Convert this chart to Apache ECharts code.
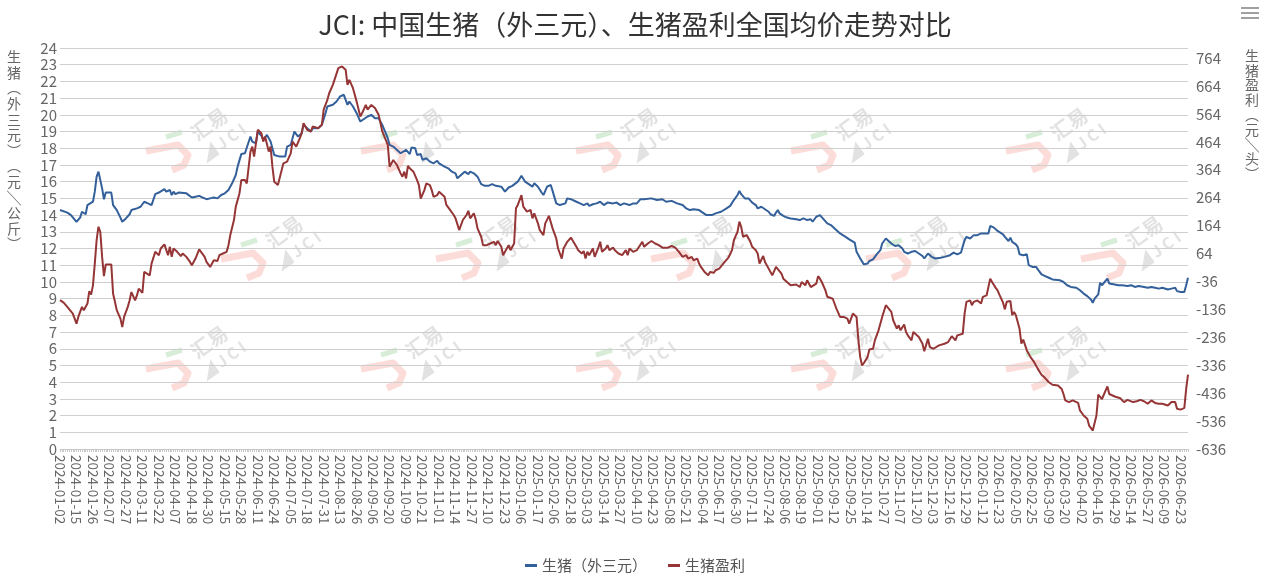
<!DOCTYPE html>
<html>
<head>
<meta charset="utf-8">
<title>JCI 生猪走势对比</title>
<script src="https://cdn.jsdelivr.net/npm/echarts@6/dist/echarts.min.js"></script>
<style>
    html, body {margin: 0; padding: 0; background: #fff;}
    #chart {width: 1270px; height: 583px;}
</style>
</head>
<body>
<div id="chart"></div>
<script>
// tick labels, one every 9 trading days
const dateLabels = [
    '2024-01-02', '2024-01-15', '2024-01-26', '2024-02-07', '2024-02-27', '2024-03-11', '2024-03-22',
    '2024-04-07', '2024-04-18', '2024-04-30', '2024-05-15', '2024-05-28', '2024-06-11', '2024-06-24',
    '2024-07-05', '2024-07-18', '2024-07-31', '2024-08-13', '2024-08-26', '2024-09-06', '2024-09-20',
    '2024-10-09', '2024-10-21', '2024-11-01', '2024-11-14', '2024-11-27', '2024-12-10', '2024-12-23',
    '2025-01-06', '2025-01-17', '2025-02-06', '2025-02-18', '2025-03-03', '2025-03-14', '2025-03-27',
    '2025-04-10', '2025-04-23', '2025-05-08', '2025-05-21', '2025-06-04', '2025-06-17', '2025-06-30',
    '2025-07-11', '2025-07-24', '2025-08-06', '2025-08-19', '2025-09-01', '2025-09-12', '2025-09-25',
    '2025-10-14', '2025-10-27', '2025-11-07', '2025-11-20', '2025-12-03', '2025-12-16', '2025-12-29',
    '2026-01-12', '2026-01-23', '2026-02-05', '2026-02-25', '2026-03-09', '2026-03-20', '2026-04-02',
    '2026-04-16', '2026-04-29', '2026-05-14', '2026-05-27', '2026-06-09', '2026-06-23'
];
const dayCount = 617;

// [trading day index, 元/公斤]
const hogPrice = [
    [0,14.3],[4,14.15],[6,14.0],[9,13.6],[11,13.85],[12,14.2],[14,14.05],[15,14.6],[16,14.55],[18,14.8],[19,15.4],
    [20,16.3],[21,16.6],[22,16.5],[23,15.6],[24,14.95],[25,15.35],[28,15.35],[29,14.6],[31,14.3],[33,13.85],[34,13.6],
    [36,13.8],[38,14.05],[39,14.3],[40,14.2],[42,14.4],[44,14.5],[45,14.4],[46,14.8],[48,14.7],[50,14.6],[52,15.25],
    [54,15.35],[55,15.35],[57,15.55],[58,15.4],[60,15.5],[61,15.2],[62,15.4],[63,15.25],[65,15.35],[66,15.3],[69,15.3],
    [72,15.05],[74,15.1],[76,15.15],[78,15.05],[80,14.95],[82,15.0],[84,15.05],[86,15.0],[88,15.2],[90,15.3],[92,15.5],
    [94,15.9],[96,16.4],[97,16.9],[99,17.65],[101,17.7],[102,17.6],[104,18.7],[105,18.4],[107,18.3],[108,19.0],[110,18.75],
    [111,18.5],[113,18.8],[115,18.4],[116,18.4],[117,17.6],[120,17.5],[123,17.5],[124,18.1],[126,18.2],[127,18.3],[128,19.0],
    [130,18.7],[132,18.9],[133,19.4],[135,19.2],[137,19.0],[138,19.2],[141,19.2],[143,19.4],[145,20.1],[146,20.5],[149,20.6],
    [151,20.8],[153,21.1],[155,21.2],[157,20.6],[158,20.8],[160,20.5],[162,20.1],[164,19.6],[165,19.7],[168,19.9],[170,20.0],
    [172,19.8],[174,19.8],[176,19.4],[179,18.6],[180,18.2],[182,18.1],[183,18.15],[186,17.7],[187,17.65],[189,17.9],[191,17.65],
    [192,18.05],[194,18.0],[195,17.6],[197,17.65],[198,17.3],[200,17.4],[202,17.2],[204,17.1],[206,17.25],[207,17.1],[210,16.9],
    [212,16.8],[214,16.6],[216,16.5],[217,16.2],[219,16.4],[221,16.6],[223,16.45],[224,16.6],[226,16.5],[228,16.3],[230,15.85],
    [232,15.75],[234,15.75],[236,15.85],[238,15.75],[239,15.85],[241,15.7],[243,15.4],[245,15.65],[247,15.75],[248,15.7],[250,16.0],
    [252,16.35],[254,16.0],[255,15.9],[258,15.7],[259,15.9],[261,15.7],[263,15.35],[264,15.2],[266,15.7],[268,15.8],[269,15.45],
    [271,14.7],[273,14.6],[276,14.7],[277,15.0],[279,14.95],[280,15.0],[282,14.8],[284,14.7],[286,14.6],[288,14.7],[289,14.55],
    [291,14.65],[293,14.7],[295,14.8],[297,14.6],[299,14.75],[300,14.8],[302,14.7],[304,14.75],[306,14.6],[308,14.7],[309,14.75],
    [311,14.6],[313,14.7],[315,14.7],[317,14.95],[319,14.95],[320,14.9],[323,15.0],[326,14.9],[329,14.95],[331,14.8],[334,14.85],
    [337,14.7],[340,14.6],[342,14.4],[344,14.3],[346,14.35],[349,14.3],[351,14.15],[353,14.0],[356,14.0],[358,14.1],[361,14.2],
    [362,14.15],[364,14.4],[366,14.55],[368,14.9],[370,15.2],[371,15.45],[372,15.25],[374,15.0],[376,15.0],[378,14.75],[380,14.6],
    [381,14.4],[383,14.5],[385,14.35],[387,14.2],[388,14.05],[390,13.95],[391,14.15],[392,14.3],[393,14.1],[395,13.95],[397,13.85],
    [399,13.8],[400,13.7],[402,13.75],[404,13.7],[406,13.8],[408,13.7],[410,13.75],[411,13.6],[413,13.9],[415,14.0],[416,13.9],
    [419,13.5],[421,13.4],[423,13.2],[426,12.9],[429,12.7],[431,12.55],[434,12.35],[435,11.8],[437,11.4],[439,11.05],[441,11.1],
    [442,11.25],[444,11.35],[446,11.65],[448,11.9],[449,12.3],[451,12.6],[452,12.55],[454,12.3],[456,12.15],[458,12.2],[460,12.0],
    [461,11.8],[463,11.7],[465,11.8],[467,11.85],[469,11.7],[471,11.55],[472,11.4],[474,11.7],[476,11.5],[478,11.4],[481,11.45],
    [483,11.5],[486,11.6],[488,11.75],[490,11.65],[492,11.75],[493,11.7],[494,12.5],[495,12.7],[497,12.6],[499,12.8],[501,12.8],
    [503,12.9],[505,12.9],[507,12.9],[508,13.35],[510,13.25],[512,13.05],[513,13.0],[515,12.85],[516,12.7],[518,12.45],[519,12.65],
    [520,12.4],[522,12.25],[523,12.1],[524,11.65],[526,11.6],[528,11.65],[529,11.0],[531,10.9],[533,10.9],[535,10.6],[536,10.45],
    [538,10.35],[540,10.25],[542,10.15],[543,10.1],[546,10.1],[548,10.0],[550,9.8],[552,9.7],[553,9.6],[555,9.65],[557,9.5],
    [559,9.3],[561,9.15],[563,8.95],[564,8.75],[565,9.0],[567,9.25],[568,9.95],[569,9.8],[570,9.85],[572,10.2],[573,9.9],
    [574,9.95],[576,9.85],[578,9.8],[580,9.8],[581,9.7],[583,9.75],[585,9.8],[587,9.7],[589,9.75],[590,9.75],[592,9.7],
    [594,9.65],[596,9.7],[598,9.65],[600,9.6],[602,9.65],[603,9.7],[605,9.55],[607,9.6],[609,9.65],[610,9.45],[612,9.4],
    [614,9.4],[615,9.8],[616,10.25]
];

// [trading day index, 元/头]
const hogProfit = [
    [0,-103],[2,-112],[4,-127],[5,-130],[7,-151],[9,-187],[10,-163],[12,-127],[13,-139],[15,-115],[16,-71],[17,-83],
    [18,-50],[19,28],[20,112],[21,160],[22,142],[23,52],[24,-17],[25,25],[28,25],[29,-80],[30,-109],[31,-139],[33,-169],
    [34,-199],[35,-163],[37,-127],[38,-104],[39,-74],[41,-104],[42,-86],[43,-62],[45,-77],[46,-2],[47,-5],[49,-14],[50,28],
    [52,70],[54,58],[55,82],[57,97],[59,58],[60,88],[61,52],[62,82],[64,70],[66,55],[67,64],[69,52],[71,34],[72,22],[74,46],
    [76,79],[77,70],[79,52],[80,34],[81,34],[82,16],[84,40],[86,37],[87,58],[89,64],[91,70],[92,94],[93,130],[95,184],
    [96,232],[98,279],[99,327],[101,327],[102,315],[104,429],[105,447],[106,411],[108,507],[110,495],[111,465],[112,483],
    [114,429],[115,447],[116,375],[117,321],[119,309],[120,309],[122,387],[124,393],[126,423],[127,465],[129,447],[131,477],
    [132,495],[133,531],[135,507],[137,501],[138,519],[141,513],[143,525],[144,579],[146,614],[147,638],[149,668],[150,674],
    [152,728],[154,734],[155,740],[156,722],[157,668],[158,686],[160,656],[162,608],[164,555],[165,567],[167,596],[168,579],
    [170,596],[172,585],[174,561],[175,531],[176,501],[179,453],[180,375],[182,399],[183,399],[184,381],[186,351],[187,339],
    [188,357],[189,333],[190,378],[191,369],[192,375],[193,357],[195,327],[196,309],[197,261],[199,291],[200,315],[202,309],
    [203,291],[204,267],[206,273],[207,285],[208,279],[210,267],[211,238],[213,220],[215,202],[216,190],[218,148],[219,154],
    [220,184],[222,202],[223,217],[224,190],[226,208],[227,187],[228,154],[230,124],[231,94],[233,94],[235,100],[237,106],
    [238,94],[239,109],[241,88],[242,58],[243,70],[245,94],[246,76],[248,100],[249,226],[250,238],[252,273],[253,232],
    [254,238],[255,214],[257,220],[258,190],[259,208],[261,172],[262,148],[264,130],[265,172],[267,199],[268,193],[269,154],
    [271,118],[272,82],[274,46],[275,82],[277,106],[279,121],[280,118],[282,88],[283,76],[285,64],[286,73],[287,46],
    [288,70],[289,58],[291,82],[292,52],[294,85],[295,106],[296,70],[298,82],[299,94],[300,76],[302,85],[303,76],[305,64],
    [307,58],[309,76],[310,58],[311,82],[313,70],[315,76],[316,82],[318,106],[319,88],[321,100],[323,109],[325,100],[327,94],
    [329,85],[330,91],[332,85],[334,91],[336,85],[338,70],[339,70],[340,52],[342,58],[343,46],[345,52],[346,40],[348,46],
    [349,28],[350,16],[352,-2],[354,-14],[355,-2],[357,-5],[358,4],[360,10],[361,7],[363,34],[365,49],[367,76],[368,112],
    [370,142],[371,178],[372,160],[373,124],[375,130],[377,106],[378,88],[380,76],[381,64],[382,28],[384,55],[385,34],
    [387,10],[388,-2],[389,-14],[390,-20],[391,16],[392,22],[394,-8],[395,-26],[397,-38],[399,-50],[400,-56],[402,-47],
    [404,-56],[405,-38],[407,-50],[408,-32],[410,-56],[411,-62],[413,-44],[414,-17],[415,-26],[416,-38],[418,-68],[419,-91],
    [420,-86],[422,-98],[423,-91],[424,-133],[426,-163],[428,-163],[430,-169],[431,-187],[432,-193],[433,-151],[435,-163],
    [436,-247],[437,-307],[438,-337],[439,-328],[441,-307],[442,-280],[444,-277],[445,-247],[447,-211],[449,-163],[451,-121],
    [452,-127],[454,-145],[455,-175],[457,-205],[458,-193],[459,-211],[461,-190],[462,-217],[463,-229],[465,-247],[466,-217],
    [467,-223],[469,-235],[471,-259],[472,-286],[474,-241],[475,-271],[477,-277],[478,-271],[480,-265],[481,-259],[483,-259],
    [485,-253],[487,-232],[489,-247],[490,-229],[491,-235],[493,-223],[494,-151],[495,-109],[497,-104],[498,-121],[499,-109],
    [501,-104],[502,-100],[503,-115],[504,-91],[505,-86],[506,-86],[508,-26],[509,-38],[511,-59],[512,-68],[513,-83],
    [514,-86],[515,-112],[516,-136],[517,-109],[519,-106],[520,-157],[521,-145],[522,-157],[524,-205],[525,-259],[526,-244],
    [527,-238],[528,-283],[530,-307],[531,-301],[532,-325],[534,-349],[536,-370],[538,-382],[540,-397],[542,-406],[543,-403],
    [545,-409],[547,-421],[548,-439],[549,-462],[551,-468],[553,-462],[554,-457],[556,-471],[557,-498],[559,-516],[561,-528],
    [562,-552],[564,-570],[565,-564],[566,-516],[567,-441],[569,-457],[570,-451],[572,-412],[573,-439],[574,-436],[576,-448],
    [577,-454],[579,-454],[581,-468],[583,-460],[584,-465],[586,-468],[588,-465],[590,-460],[592,-465],[594,-474],[596,-462],
    [598,-471],[600,-474],[602,-474],[603,-468],[605,-480],[607,-468],[609,-468],[610,-492],[612,-495],[614,-489],[615,-421],
    [616,-370]
];

const fontFamily = '"Noto Sans CJK SC", "Noto Sans", sans-serif';

let categories = [];
for (let i = 0; i < dayCount; i++) {
    categories.push(i % 9 === 0 ? dateLabels[i / 9] : '');
}

// faint "汇易 JCI" watermark, drawn as decoration
const markCenters = [
    [168, 157], [383, 157], [598, 157], [813, 157], [1028, 157],
    [243, 265], [458, 265], [673, 265], [888, 265], [1103, 265],
    [168, 375], [383, 375], [598, 375], [813, 375], [1028, 375]
];

let watermark = [];
markCenters.forEach(([cx, cy]) => {
    watermark.push({
        type: 'polyline', z: 0, silent: true,
        shape: {points: [[cx - 22, cy - 6], [cx + 10, cy - 12], [cx + 20, cy - 2], [cx + 16, cy + 8], [cx + 4, cy + 13]]},
        style: {stroke: 'rgba(245,120,110,0.26)', lineWidth: 7, fill: null, lineJoin: 'round'}
    });
    watermark.push({
        type: 'line', z: 0, silent: true,
        shape: {x1: cx - 2, y1: cy - 20, x2: cx + 14, y2: cy - 25},
        style: {stroke: 'rgba(110,190,110,0.28)', lineWidth: 5}
    });
    watermark.push({
        type: 'text', z: 0, silent: true, x: cx + 41, y: cy - 33, rotation: 0.62,
        style: {text: '汇易', fill: 'rgba(150,150,150,0.28)', font: 'bold 20px ' + fontFamily, align: 'center', verticalAlign: 'middle'}
    });
    watermark.push({
        type: 'text', z: 0, silent: true, x: cx + 55, y: cy - 15, rotation: 0.62,
        style: {text: '◢ J C I', fill: 'rgba(150,150,150,0.28)', font: 'bold 16px ' + fontFamily, align: 'center', verticalAlign: 'middle'}
    });
});

let option = {
    animation: false,
    textStyle: {fontFamily: fontFamily},
    title: {
        text: 'JCI: 中国生猪（外三元）、生猪盈利全国均价走势对比',
        left: 'center',
        top: 6,
        textStyle: {fontSize: 27, fontWeight: 'normal', color: '#333', fontFamily: fontFamily}
    },
    legend: {
        bottom: 5,
        left: 'center',
        icon: 'rect',
        itemWidth: 12,
        itemHeight: 3,
        itemGap: 21,
        textStyle: {fontSize: 15, color: '#555'},
        data: ['生猪（外三元）', '生猪盈利']
    },
    grid: {
        top: 48,
        left: 60,
        right: 82,
        bottom: 134,
        containLabel: false
    },
    xAxis: {
        type: 'category',
        data: categories,
        boundaryGap: false,
        axisLine: {lineStyle: {color: '#c8c8c8'}},
        axisTick: {interval: 0, length: 3, lineStyle: {color: '#c8c8c8'}},
        axisLabel: {interval: 8, rotate: -90, fontSize: 13.5, color: '#666', margin: 6},
        splitLine: {show: false}
    },
    yAxis: [
        {
            type: 'value',
            min: 0,
            max: 24,
            interval: 1,
            axisLine: {show: false},
            axisTick: {show: false},
            axisLabel: {fontSize: 15, color: '#666', margin: 3},
            splitLine: {lineStyle: {color: '#cfcfcf'}}
        },
        {
            type: 'value',
            min: -636,
            max: 800,
            interval: 100,
            axisLine: {show: false},
            axisTick: {show: false},
            axisLabel: {fontSize: 15, color: '#666', margin: 8, showMaxLabel: false},
            splitLine: {show: false}
        }
    ],
    graphic: watermark.concat([
        {
            type: 'text', left: 7, top: 49,
            style: {
                text: ['生', '猪', '︵', '外', '三', '元', '︶', '︵', '元', '╲', '公', '斤', '︶'].join('\n'),
                font: '14px ' + fontFamily, lineHeight: 15.6, fill: '#666'
            }
        },
        {
            type: 'text', left: 1245, top: 48,
            style: {
                text: ['生', '猪', '盈', '利', '︵', '元', '╲', '头', '︶'].join('\n'),
                font: '14px ' + fontFamily, lineHeight: 14.8, fill: '#666'
            }
        },
        {
            type: 'group', left: 1241, top: 7,
            children: [0, 5, 10].map((dy) => ({
                type: 'rect',
                shape: {x: 0, y: dy, width: 18, height: 2},
                style: {fill: '#a0a0a0'}
            }))
        }
    ]),
    series: [
        {
            name: '生猪（外三元）',
            type: 'line',
            yAxisIndex: 0,
            data: hogPrice,
            showSymbol: false,
            z: 3,
            lineStyle: {width: 2, color: '#33609a'},
            itemStyle: {color: '#33609a'}
        },
        {
            name: '生猪盈利',
            type: 'line',
            yAxisIndex: 1,
            data: hogProfit,
            showSymbol: false,
            z: 3,
            lineStyle: {width: 2, color: '#953535'},
            itemStyle: {color: '#953535'}
        }
    ]
};

let chart = echarts.init(document.getElementById('chart'));
chart.setOption(option);

window.addEventListener('resize', () => {
    chart && chart.resize();
});
</script>
</body>
</html>
